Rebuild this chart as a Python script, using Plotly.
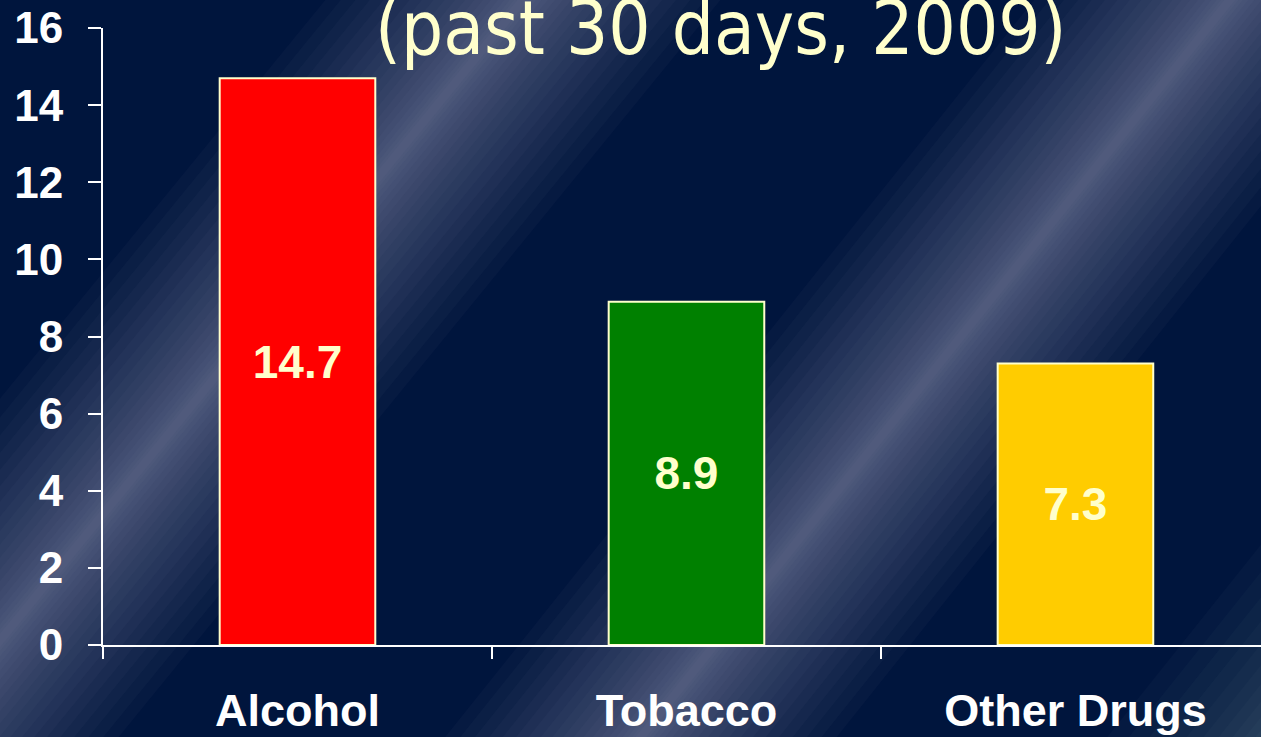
import math
import plotly.graph_objects as go

# Chart data
categories = ["Alcohol", "Tobacco", "Other Drugs"]
values = [14.7, 8.9, 7.3]
bar_colors = ["#FF0000", "#008000", "#FFCC00"]
y_ticks = [0, 2, 4, 6, 8, 10, 12, 14, 16]
title_text = "(past 30 days, 2009)"

# Figure size and margins (pixels)
W, H = 1261, 737
ML, MR, MT, MB = 103, 0, 28, 92
NAVY = "#00153D"


def to_paper(px, py):
    # convert a figure pixel position to paper coordinates
    return (px - ML) / (W - ML - MR), (H - MB - py) / (H - MT - MB)


def streak_shapes(px, py, dx, dy, max_half, steps, alpha, rgb="165,178,205"):
    # soft diagonal light streak made of many stacked translucent bands
    n = math.hypot(dx, dy)
    ux, uy = dx / n, dy / n
    nx, ny = -uy, ux
    shapes = []
    for i in range(steps):
        half = max_half * (1 - i / steps) ** 1.6 + 3
        pts = []
        for s, o in [(-2000, -half), (2000, -half), (2000, half), (-2000, half)]:
            pts.append(to_paper(px + ux * s + nx * o, py + uy * s + ny * o))
        path = "M " + " L ".join(f"{x:.4f},{y:.4f}" for x, y in pts) + " Z"
        shapes.append(dict(type="path", path=path, xref="paper", yref="paper",
                           fillcolor=f"rgba({rgb},{alpha})", line=dict(width=0),
                           layer="below"))
    return shapes


shapes = []
shapes += streak_shapes(24, 611, 338, -414, 150, 20, 0.034)
shapes += streak_shapes(915, 394, 286, -358, 150, 20, 0.034)
shapes += streak_shapes(1335, 665, 286, -358, 130, 12, 0.03)

bars = go.Bar(
    x=categories,
    y=values,
    width=0.4,
    marker=dict(color=bar_colors, line=dict(color="#FFFFCC", width=2)),
    text=[f"{v:.1f}" for v in values],
    textposition="inside",
    insidetextanchor="middle",
    textangle=0,
    textfont=dict(family="Liberation Sans, Arial", size=46, color="#FFFFCC", weight="bold"),
    hoverinfo="x+y",
)

layout = go.Layout(
    width=W,
    height=H,
    margin=dict(l=ML, r=MR, t=MT, b=MB),
    paper_bgcolor=NAVY,
    plot_bgcolor="rgba(0,0,0,0)",
    showlegend=False,
    shapes=shapes,
    xaxis=dict(
        range=[-0.5, 2.477],
        showline=True, linecolor="white", linewidth=2,
        ticks="outside", tickson="boundaries", ticklen=12, tickwidth=2, tickcolor="white",
        ticklabelstandoff=25,
        tickfont=dict(family="Liberation Sans, Arial", size=45, color="white", weight="bold"),
        showgrid=False, zeroline=False, fixedrange=True,
    ),
    yaxis=dict(
        range=[0, 16],
        tickvals=y_ticks,
        showline=True, linecolor="white", linewidth=2,
        ticks="outside", ticklen=13, tickwidth=2, tickcolor="white",
        ticklabelstandoff=16,
        tickfont=dict(family="Liberation Sans, Arial", size=44, color="white", weight="bold"),
        showgrid=False, zeroline=False, fixedrange=True,
    ),
    annotations=[dict(
        text=title_text, xref="paper", yref="paper", x=0.534, y=1.0,
        xanchor="center", yanchor="middle", showarrow=False,
        font=dict(family="DejaVu Sans Condensed, DejaVu Sans", size=74, color="#FFFFCC"),
    )],
)

fig = go.Figure(data=[bars], layout=layout)
# remove the default page margin so the figure fills the window
fig.write_html("out.html", config={"displayModeBar": False},
               post_script="document.body.style.margin='0';document.body.style.overflow='hidden';")
